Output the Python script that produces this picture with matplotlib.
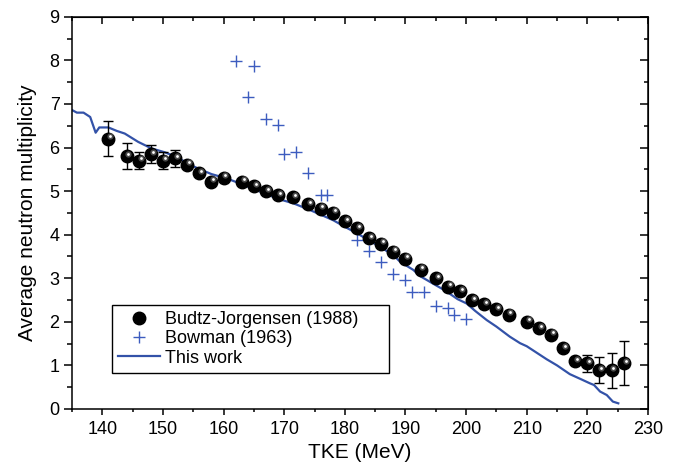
import numpy as np
import matplotlib.pyplot as plt
from matplotlib.transforms import ScaledTranslation
from matplotlib.ticker import MultipleLocator
from matplotlib.lines import Line2D

plt.rcParams['font.family'] = ['Liberation Sans', 'DejaVu Sans']

# Budtz-Jorgensen (1988)
bj_tke = [141, 144, 146, 148, 150, 152, 154, 156, 158, 160, 163, 165, 167, 169,
          171.5, 174, 176, 178, 180, 182, 184, 186, 188, 190, 192.5, 195, 197,
          199, 201, 203, 205, 207, 210, 212, 214, 216, 218, 220, 222, 224, 226]
bj_nu = [6.2, 5.8, 5.7, 5.85, 5.7, 5.75, 5.6, 5.41, 5.21, 5.31, 5.21, 5.11, 5.0,
         4.91, 4.86, 4.7, 4.6, 4.5, 4.31, 4.15, 3.92, 3.79, 3.61, 3.45, 3.2, 3.0,
         2.8, 2.7, 2.5, 2.4, 2.29, 2.16, 2.0, 1.85, 1.7, 1.39, 1.1, 1.05, 0.89,
         0.89, 1.05]
bj_err = [0.4, 0.3, 0.2, 0.2, 0.2, 0.2, 0, 0, 0, 0, 0, 0, 0, 0, 0, 0, 0, 0, 0, 0,
          0, 0, 0, 0, 0, 0, 0, 0, 0, 0, 0, 0, 0, 0, 0, 0, 0, 0.2, 0.3, 0.4, 0.5]

# Bowman (1963)
bw_tke = [162, 164, 165, 167, 169, 170, 172, 174, 176, 177, 182, 184, 186, 188,
          190, 191, 193, 195, 197, 198, 200]
bw_nu = [7.99, 7.16, 7.88, 6.65, 6.52, 5.86, 5.9, 5.41, 4.9, 4.9, 3.88, 3.63,
         3.38, 3.09, 2.97, 2.68, 2.68, 2.36, 2.32, 2.16, 2.07]

# This work
tw_tke = [135.0, 135.8, 136.9, 138.0, 138.9, 139.5, 141.0, 142.4, 143.7, 145.9,
          148.1, 150.3, 152.5, 153.9, 156.1, 158.0, 160.5, 163.0, 164.9, 167.1,
          169.0, 171.5, 174.0, 176.0, 178.1, 180.0, 182.0, 184.0, 185.8, 188.0,
          189.1, 191.3, 192.4, 194.5, 196.5, 198.6, 200.1, 201.5, 203.4, 205.0,
          207.2, 208.9, 210.0, 212.2, 213.3, 215.0, 217.1, 219.0, 220.4, 221.1,
          222.1, 223.2, 224.2, 225.1]
tw_nu = [6.86, 6.80, 6.80, 6.70, 6.34, 6.46, 6.46, 6.38, 6.32, 6.13,
         5.98, 5.89, 5.77, 5.64, 5.50, 5.39, 5.29, 5.16, 5.05, 4.93,
         4.82, 4.72, 4.58, 4.46, 4.33, 4.18, 4.03, 3.87, 3.72, 3.53,
         3.38, 3.19, 3.05, 2.88, 2.72, 2.52, 2.42, 2.25, 2.04, 1.89,
         1.66, 1.51, 1.44, 1.24, 1.14, 1.00, 0.80, 0.68, 0.59, 0.55,
         0.40, 0.32, 0.17, 0.13]

blue = '#3352a8'
pblue = '#3d5cbf'

fig = plt.figure(figsize=(6.89, 4.72), dpi=100)
ax = fig.add_axes([0.1045, 0.1335, 0.836, 0.831])

ax.plot(tw_tke, tw_nu, color=blue, lw=1.6, zorder=2)
ax.plot(bw_tke, bw_nu, ls='none', marker='+', ms=8, mew=1.0, color=pblue, zorder=3)

err_x = [t for t, e in zip(bj_tke, bj_err) if e > 0]
err_y = [v for v, e in zip(bj_nu, bj_err) if e > 0]
err_e = [e for e in bj_err if e > 0]
ax.errorbar(err_x, err_y, yerr=err_e, fmt='none', ecolor='black', elinewidth=1.0,
            capsize=3.5, capthick=1.0, zorder=4)

# shaded spheres: black ball plus a soft highlight shifted up-right
ax.plot(bj_tke, bj_nu, ls='none', marker='o', ms=9, mfc='black', mec='black',
        zorder=5)
shift = ax.transData + ScaledTranslation(1.3 / 72, 1.8 / 72, fig.dpi_scale_trans)
ax.plot(bj_tke, bj_nu, ls='none', marker='o', ms=4.5, mfc='#4a4a4a', mec='none',
        transform=shift, zorder=6)
ax.plot(bj_tke, bj_nu, ls='none', marker='o', ms=2.0, mfc='white', mec='none',
        transform=shift, zorder=7)

ax.set_xlim(135, 230)
ax.set_ylim(0, 9)
ax.xaxis.set_major_locator(MultipleLocator(10))
ax.xaxis.set_minor_locator(MultipleLocator(5))
ax.yaxis.set_major_locator(MultipleLocator(1))
ax.yaxis.set_minor_locator(MultipleLocator(0.5))

for s in ax.spines.values():
    s.set_linewidth(1.1)

ax.tick_params(axis='x', which='major', direction='out', length=4, width=1.1,
               labelsize=13, pad=5)
ax.tick_params(axis='x', which='minor', direction='out', length=2.5, width=1.1)
ax.tick_params(axis='y', which='major', direction='out', length=6, width=1.1,
               labelsize=13, pad=3)
ax.tick_params(axis='y', which='minor', direction='out', length=3.5, width=1.1)

top = ax.secondary_xaxis('top')
top.xaxis.set_major_locator(MultipleLocator(10))
top.xaxis.set_minor_locator(MultipleLocator(5))
top.tick_params(which='major', direction='in', length=5, width=1.1, labeltop=False)
top.tick_params(which='minor', direction='in', length=3, width=1.1)

right = ax.secondary_yaxis('right')
right.yaxis.set_major_locator(MultipleLocator(1))
right.yaxis.set_minor_locator(MultipleLocator(0.5))
right.tick_params(which='major', direction='in', length=6, width=1.1, labelright=False)
right.tick_params(which='minor', direction='in', length=3, width=1.1)

ax.set_xlabel('TKE (MeV)', fontsize=15, labelpad=3)
ax.set_ylabel('Average neutron multiplicity', fontsize=15, labelpad=9)

handles = [
    Line2D([], [], ls='none', marker='o', ms=9, mfc='black', mec='black'),
    Line2D([], [], ls='none', marker='+', ms=8, mew=1.0, color=pblue),
    Line2D([], [], color=blue, lw=1.6),
]
leg = ax.legend(handles, ['Budtz-Jorgensen (1988)', 'Bowman (1963)', 'This work'],
                loc='lower left', bbox_to_anchor=(0.069, 0.092, 0.481, 0.183),
                mode='expand', fontsize=13,
                frameon=True, fancybox=False, edgecolor='black', framealpha=1,
                borderpad=0.35, labelspacing=0.12, handlelength=2.3,
                handletextpad=0.3, borderaxespad=0)
leg.get_frame().set_linewidth(1.0)

fig.savefig('out.png', dpi=100)
